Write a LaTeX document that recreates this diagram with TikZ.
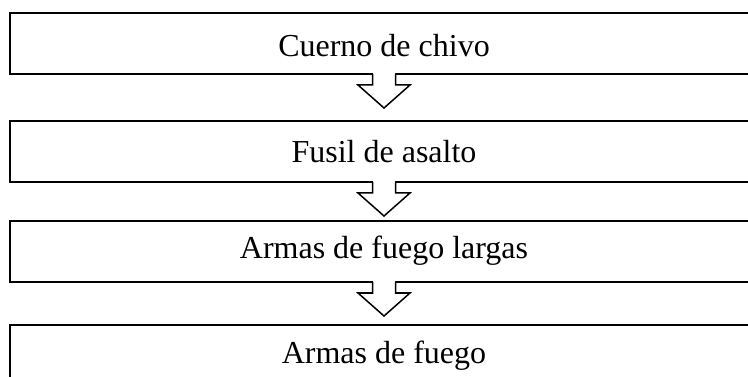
\documentclass[tikz,border=0pt]{standalone}
\usepackage{fontspec}
\setmainfont{Liberation Serif}
\usetikzlibrary{calc}
\tikzset{
  box/.style={draw, line width=2pt, minimum width=748pt, inner sep=0pt,
    font=\fontsize{32}{38}\selectfont},
  arrowline/.style={line width=1.5pt, line join=miter},
}
\newcommand\blockdownarrow[1]{%
  \begin{scope}[shift={(#1.south)}]
    \fill[white] (-11,-3) -- (-11,10) -- (-26,10) -- (0,33) -- (26,10) -- (11,10) -- (11,-3) -- cycle;
    \draw[arrowline] (-11.5,-1) -- (-11.5,10) -- (-26,10) -- (0,33) -- (26,10) -- (11.5,10) -- (11.5,-1);
  \end{scope}}
\begin{document}
\begin{tikzpicture}[x=1pt,y=-1pt]
  \useasboundingbox (0,0) rectangle (748,377);
  \clip (0,0) rectangle (748,377);
  \node[box, text height=44pt, text depth=17pt] (b1) at (384,43.5) {Cuerno de chivo};
  \node[box, text height=42pt, text depth=19pt] (b2) at (384,151.5) {Fusil de asalto};
  \node[box, text height=37.5pt, text depth=23.5pt] (b3) at (384,251.5) {Armas de fuego largas};
  \node[box, text height=38pt, text depth=23pt] (b4) at (384,355.5) {Armas de fuego};
  \blockdownarrow{b1}
  \blockdownarrow{b2}
  \blockdownarrow{b3}
\end{tikzpicture}
\end{document}
